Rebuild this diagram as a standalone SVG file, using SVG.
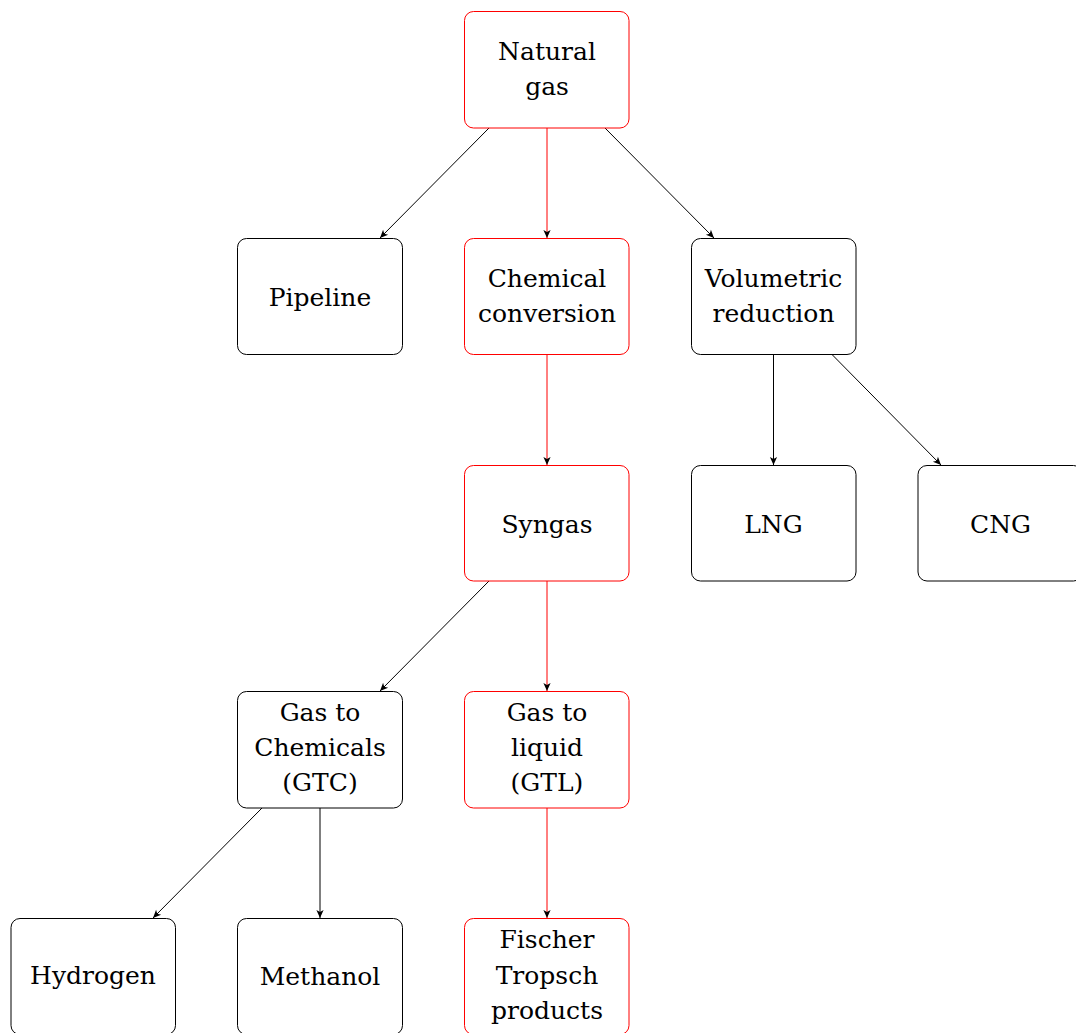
<svg xmlns="http://www.w3.org/2000/svg" width="1076" height="1033" viewBox="0 0 1076 1033">
<style>
.box{fill:#fff;stroke:#000;stroke-width:1}
.red{stroke:#ff0000}
.t{font-family:"DejaVu Serif",serif;font-size:25px;fill:#000;text-anchor:middle}
.c{fill:none;stroke:#000;stroke-width:1}
.cr{stroke:#ff0000}
</style>
<defs>
<marker id="ah" markerUnits="userSpaceOnUse" markerWidth="12" markerHeight="10" viewBox="-10 -5 12 10" refX="0" refY="0" orient="auto">
<path d="M0,0 L-8,-3.6 L-6,0 L-8,3.6 Z" fill="#000"/>
</marker>
</defs>
<rect width="1076" height="1033" fill="#fff"/>
<g id="connectors">
<line class="c" x1="489" y1="128" x2="380" y2="238" marker-end="url(#ah)"/>
<line class="c cr" x1="547" y1="128" x2="547" y2="238" marker-end="url(#ah)"/>
<line class="c" x1="605" y1="128" x2="714" y2="238" marker-end="url(#ah)"/>
<line class="c cr" x1="547" y1="354.5" x2="547" y2="465" marker-end="url(#ah)"/>
<line class="c" x1="773.5" y1="354.5" x2="773.5" y2="465" marker-end="url(#ah)"/>
<line class="c" x1="832" y1="354.5" x2="941" y2="465" marker-end="url(#ah)"/>
<line class="c" x1="489" y1="581" x2="380" y2="691" marker-end="url(#ah)"/>
<line class="c cr" x1="547" y1="581" x2="547" y2="691" marker-end="url(#ah)"/>
<line class="c" x1="262" y1="808" x2="153" y2="918" marker-end="url(#ah)"/>
<line class="c" x1="320" y1="808" x2="320" y2="918" marker-end="url(#ah)"/>
<line class="c cr" x1="547" y1="808" x2="547" y2="918" marker-end="url(#ah)"/>
</g>
<g id="natural-gas">
<rect class="box red" x="464.5" y="11.5" width="164.5" height="116.5" rx="9"/>
<text class="t" x="547" y="60">Natural</text>
<text class="t" x="547" y="95">gas</text>
</g>
<g id="pipeline">
<rect class="box" x="237.5" y="238.5" width="165" height="116" rx="9"/>
<text class="t" x="320" y="306">Pipeline</text>
</g>
<g id="chemical-conversion">
<rect class="box red" x="464.5" y="238.5" width="164.5" height="116" rx="9"/>
<text class="t" x="547" y="287">Chemical</text>
<text class="t" x="547" y="322">conversion</text>
</g>
<g id="volumetric-reduction">
<rect class="box" x="691.5" y="238.5" width="164.5" height="116" rx="9"/>
<text class="t" x="773.5" y="287">Volumetric</text>
<text class="t" x="773.5" y="322">reduction</text>
</g>
<g id="syngas">
<rect class="box red" x="464.5" y="465.5" width="164.5" height="115.5" rx="9"/>
<text class="t" x="547" y="532.5">Syngas</text>
</g>
<g id="lng">
<rect class="box" x="691.5" y="465.5" width="164.5" height="115.5" rx="9"/>
<text class="t" x="773.5" y="532.5">LNG</text>
</g>
<g id="cng">
<rect class="box" x="918" y="465.5" width="164.5" height="115.5" rx="9"/>
<text class="t" x="1000.5" y="532.5">CNG</text>
</g>
<g id="gtc">
<rect class="box" x="237.5" y="691.5" width="165" height="116.5" rx="9"/>
<text class="t" x="320" y="721">Gas to</text>
<text class="t" x="320" y="756">Chemicals</text>
<text class="t" x="320" y="791">(GTC)</text>
</g>
<g id="gtl">
<rect class="box red" x="464.5" y="691.5" width="164.5" height="116.5" rx="9"/>
<text class="t" x="547" y="721">Gas to</text>
<text class="t" x="547" y="756">liquid</text>
<text class="t" x="547" y="791">(GTL)</text>
</g>
<g id="hydrogen">
<rect class="box" x="11" y="918.5" width="164.5" height="116" rx="9"/>
<text class="t" x="93" y="984">Hydrogen</text>
</g>
<g id="methanol">
<rect class="box" x="237.5" y="918.5" width="165" height="116" rx="9"/>
<text class="t" x="320" y="985">Methanol</text>
</g>
<g id="fischer-tropsch">
<rect class="box red" x="464.5" y="918.5" width="164.5" height="116" rx="9"/>
<text class="t" x="547" y="948">Fischer</text>
<text class="t" x="547" y="983.5">Tropsch</text>
<text class="t" x="547" y="1018.5">products</text>
</g>
</svg>
